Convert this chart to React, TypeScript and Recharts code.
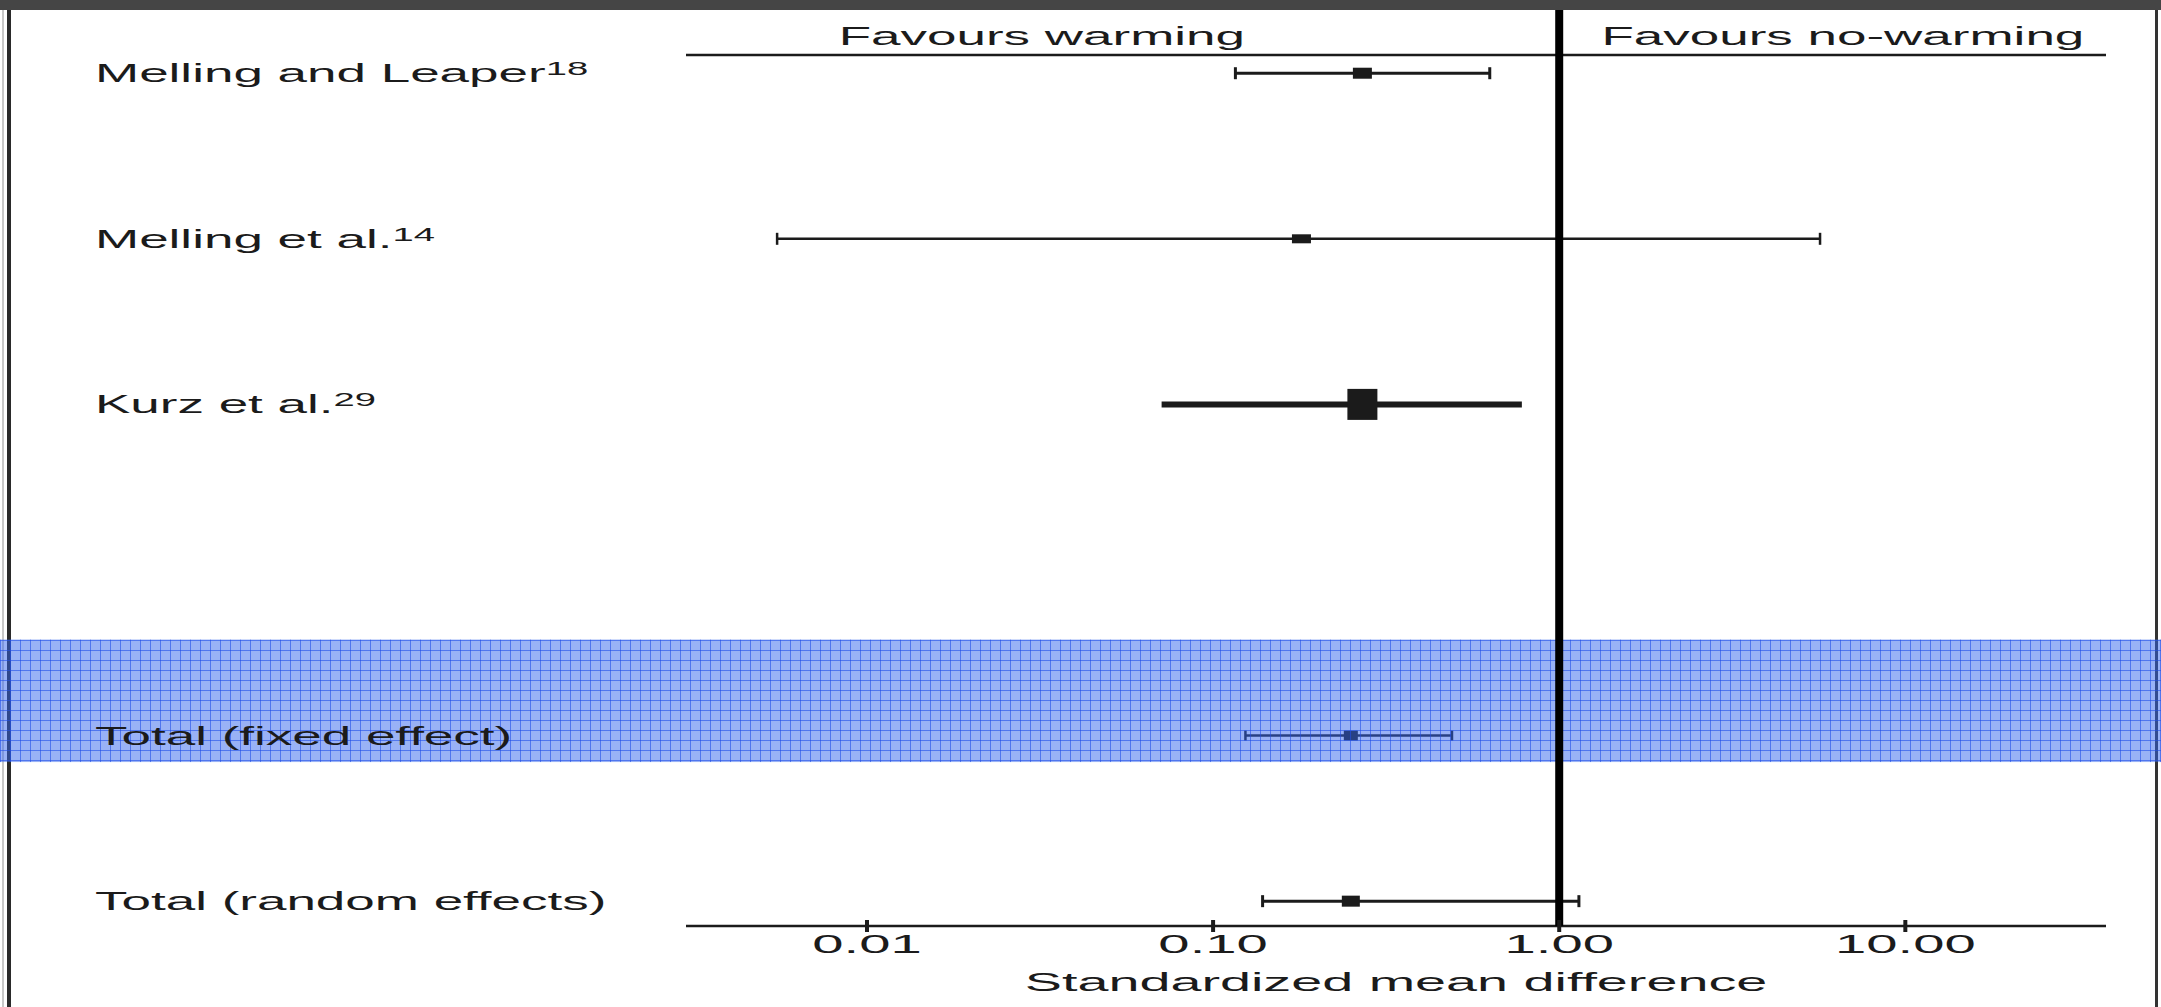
import {
  ScatterChart,
  Scatter,
  XAxis,
  YAxis,
  ErrorBar,
  ReferenceArea,
  ReferenceLine,
  ReferenceDot,
  Label,
} from "recharts";

// rows top to bottom; the empty string is the gap before the pooled totals
const rowLabels = [
  "Melling and Leaper",
  "Melling et al.",
  "Kurz et al.",
  "",
  "Total (fixed effect)",
  "Total (random effects)",
];

const studies = [
  "Melling and Leaper",
  "Melling et al.",
  "Kurz et al.",
  "Total (fixed effect)",
  "Total (random effects)",
];
const citations = ["18", "14", "29", "", ""];
const smd = [0.27, 0.18, 0.27, 0.25, 0.25];
const ciLower = [0.116, 0.0055, 0.071, 0.124, 0.139];
const ciUpper = [0.63, 5.67, 0.78, 0.49, 1.14];

const xTicks = [0.01, 0.1, 1, 10];
const xDomain = [0.003, 38];
const yDomain = [-0.11, 5.15];
const sideLabels = ["Favours warming", "Favours no-warming"];
const sideLabelAt = [0.032, 6.6];
const highlighted = "Total (fixed effect)";

const W = 2161;
const H = 1007;
const FONT = "'Liberation Sans', Arial, sans-serif";
const INK = "#1b1b1b";
const STRETCH = 2.12;
const LABEL_X = 95;

const markStyle: Record<string, { w: number; h: number; line: number; cap: number }> = {
  "Melling and Leaper": { w: 19, h: 11, line: 3, cap: 6 },
  "Melling et al.": { w: 19, h: 9, line: 2.5, cap: 6 },
  "Kurz et al.": { w: 30, h: 31, line: 6, cap: 0 },
  "Total (fixed effect)": { w: 14, h: 10, line: 2.5, cap: 5 },
  "Total (random effects)": { w: 18, h: 11, line: 3, cap: 6 },
};

const points = studies.map((s, i) => ({
  study: s,
  x: smd[i],
  y: rowLabels.indexOf(s),
  err: [smd[i] - ciLower[i], ciUpper[i] - smd[i]],
}));

const hiRow = rowLabels.indexOf(highlighted);

function RowTick(props: any) {
  const { y, payload } = props;
  const label = rowLabels[payload.value];
  if (!label) return <g />;
  const cite = citations[studies.indexOf(label)];
  return (
    <text
      transform={`translate(${LABEL_X},${y + 9}) scale(${STRETCH},1)`}
      fontFamily={FONT}
      fontSize={25}
      fill={INK}
    >
      {label}
      {cite ? (
        <tspan dy={-7} fontSize={18}>
          {cite}
        </tspan>
      ) : null}
    </text>
  );
}

function AxisTick(props: any) {
  const { x, y, payload } = props;
  return (
    <g>
      <line x1={x} x2={x} y1={y - 6} y2={y + 6} stroke={INK} strokeWidth={4} />
      <text
        transform={`translate(${x},${y + 27}) scale(2.25,1)`}
        textAnchor="middle"
        fontFamily={FONT}
        fontSize={25}
        fill={INK}
      >
        {Number(payload.value).toFixed(2)}
      </text>
    </g>
  );
}

function sideLabel(text: string) {
  return function SideLabel(props: any) {
    const vb = props.viewBox || {};
    const cx = (vb.x ?? 0) + (vb.width ?? 0) / 2;
    const cy = (vb.y ?? 0) + (vb.height ?? 0) / 2;
    return (
      <text
        transform={`translate(${cx},${cy - 10}) scale(${STRETCH},1)`}
        textAnchor="middle"
        fontFamily={FONT}
        fontSize={25}
        fill={INK}
      >
        {text}
      </text>
    );
  };
}

function AxisTitle(props: any) {
  const { x, y, width } = props.viewBox;
  return (
    <text
      transform={`translate(${x + width / 2},${y + 65}) scale(2.23,1)`}
      textAnchor="middle"
      fontFamily={FONT}
      fontSize={25}
      fill={INK}
    >
      Standardized mean difference
    </text>
  );
}

function BandShape(props: any) {
  const top = Math.min(props.y, props.y + props.height);
  const h = Math.abs(props.height);
  return (
    <g>
      <defs>
        <pattern id="bandGrid" width={10} height={10} patternUnits="userSpaceOnUse">
          <rect width={10} height={10} fill="#3366ee" fillOpacity={0.5} />
          <path d="M0 0.5H10M0.5 0V10" stroke="#1f4fe8" strokeOpacity={0.6} strokeWidth={1} />
        </pattern>
      </defs>
      <rect x={0} y={top} width={W} height={h} fill="url(#bandGrid)" />
    </g>
  );
}

export default function App() {
  return (
    <div
      style={{
        position: "absolute",
        left: 0,
        top: 0,
        width: W,
        height: H,
        background: "#fff",
        overflow: "hidden",
      }}
    >
      <div style={{ position: "absolute", left: 0, top: 0, width: W, height: 10, background: "#454545" }} />
      <div style={{ position: "absolute", left: 2, top: 10, width: 2, height: H - 10, background: "#c8c8c8" }} />
      <div style={{ position: "absolute", left: 7, top: 10, width: 4, height: H - 10, background: "#2a2a2a" }} />
      <div style={{ position: "absolute", left: 2155, top: 10, width: 3, height: H - 10, background: "#333" }} />
      <div style={{ position: "absolute", left: 0, top: 0 }}>
        <ScatterChart width={W} height={H} margin={{ top: 0, right: 55, bottom: 0, left: 0 }}>
          <XAxis
            xAxisId="top"
            orientation="top"
            type="number"
            scale="log"
            domain={xDomain}
            allowDataOverflow
            height={55}
            axisLine={{ stroke: INK, strokeWidth: 2.5 }}
            tickLine={false}
            tick={false}
          />
          <XAxis
            dataKey="x"
            type="number"
            scale="log"
            domain={xDomain}
            allowDataOverflow
            ticks={xTicks}
            interval={0}
            height={81}
            axisLine={{ stroke: INK, strokeWidth: 2.5 }}
            tickLine={false}
            tickSize={0}
            tickMargin={0}
            tick={AxisTick}
            label={<Label content={AxisTitle} />}
          />
          <YAxis
            dataKey="y"
            type="number"
            domain={yDomain}
            allowDataOverflow
            reversed
            ticks={rowLabels.map((_, i) => i)}
            interval={0}
            width={686}
            axisLine={false}
            tickLine={false}
            tick={RowTick}
          />
          {points.map((p) => {
            const st = markStyle[p.study];
            return (
              <Scatter
                key={p.study}
                data={[p]}
                fill={INK}
                isAnimationActive={false}
                shape={(sp: any) => (
                  <rect x={sp.cx - st.w / 2} y={sp.cy - st.h / 2} width={st.w} height={st.h} fill={INK} />
                )}
              >
                <ErrorBar
                  direction="x"
                  dataKey="err"
                  width={st.cap}
                  strokeWidth={st.line}
                  stroke={INK}
                  isAnimationActive={false}
                />
              </Scatter>
            );
          })}
          {sideLabels.map((t, i) => (
            <ReferenceDot
              key={t}
              x={sideLabelAt[i]}
              y={yDomain[0]}
              r={0}
              fill="none"
              stroke="none"
              ifOverflow="visible"
              label={<Label content={sideLabel(t)} />}
            />
          ))}
          <ReferenceArea
            y1={hiRow - 0.58}
            y2={hiRow + 0.16}
            ifOverflow="visible"
            zIndex={650}
            shape={BandShape}
          />
          <ReferenceLine
            x={1}
            zIndex={700}
            shape={(p: any) => (
              <line x1={p.x1} x2={p.x2} y1={10} y2={Math.max(p.y1, p.y2)} stroke="#000" strokeWidth={8} />
            )}
          />
        </ScatterChart>
      </div>
    </div>
  );
}
